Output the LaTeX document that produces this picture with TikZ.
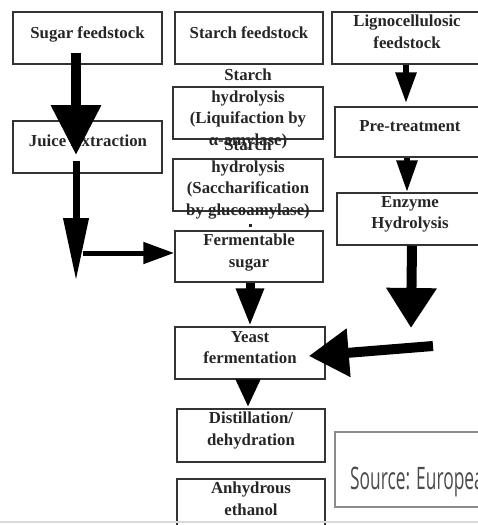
\documentclass[tikz,border=0pt]{standalone}
\usepackage{fontspec}
\setmainfont{Liberation Serif}
\newfontfamily\srcfont[FakeStretch=0.56]{Open Sans}
\usetikzlibrary{arrows.meta,calc}

\tikzset{
  box/.style={draw=black!80, line width=1.5pt, inner sep=0pt},
  txt/.style={anchor=north, inner sep=0pt, align=center, text=black!85,
              font=\bfseries\fontsize{16.8}{21.5}\selectfont},
  flow/.style n args={3}{draw=black, line width=#1, -{Triangle[width=#2,length=#3]}}
}

\begin{document}
\begin{tikzpicture}[x=1pt,y=-1pt]
    \useasboundingbox (0,0) rectangle (478,525);
    \clip (0,0) rectangle (478,525);
    % boxes
    \node[box, minimum width=149pt, minimum height=52pt] (sugar) at (87.5,38) {};
    \node[box, minimum width=148pt, minimum height=52pt] (starch) at (249,38) {};
    \node[box, minimum width=158pt, minimum height=52pt] (ligno) at (411,38) {};
    \node[box, minimum width=149pt, minimum height=52pt] (juice) at (87.5,147) {};
    \node[box, minimum width=155pt, minimum height=50pt] (pretreat) at (412.5,132) {};
    \node[box, minimum width=150pt, minimum height=52pt] (liquif) at (248,113) {};
    \node[box, minimum width=150pt, minimum height=52pt] (sacch) at (248,185) {};
    \node[box, minimum width=148pt, minimum height=51pt] (ferm) at (249,256.5) {};
    \node[box, minimum width=153pt, minimum height=52pt] (enzyme) at (413.5,219) {};
    \node[box, minimum width=150pt, minimum height=52pt] (yeast) at (250,353) {};
    \node[box, minimum width=148pt, minimum height=53pt] (distil) at (251,435.5) {};
    \node[box, minimum width=148pt, minimum height=61pt] (anhyd) at (251,509.5) {};
    \node[box, draw=black!45, minimum width=155pt, minimum height=75pt] (source) at (412.5,469.5) {};
    % texts
    \node[txt] (t-sugar) at (87.5,26) {Sugar feedstock};
    \node[txt] (t-starch) at (249,26) {Starch feedstock};
    \node[txt] (t-ligno) at (407,15) {Lignocellulosic\\feedstock};
    \node[txt] (t-juice) at (88,135) {Juice Extraction};
    \node[txt] (t-pretreat) at (410,120) {Pre-treatment};
    \node[txt] (t-liquif) at (248,69) {Starch\\hydrolysis\\(Liquifaction by\\α-amylase)};
    \node[txt] (t-sacch) at (248,139) {Starch\\hydrolysis\\(Saccharification\\by glucoamylase)};
    \node[txt] (t-ferm) at (249,234) {Fermentable\\sugar};
    \node[txt] (t-enzyme) at (410,196) {Enzyme\\Hydrolysis};
    \node[txt] (t-yeast) at (250,331) {Yeast\\fermentation};
    \node[txt] (t-distil) at (251,412) {Distillation/\\dehydration};
    \node[txt] (t-anhyd) at (251,482) {Anhydrous\\ethanol};
    \node[anchor=base west, inner sep=0pt, text=black!70, font=\srcfont\fontsize{31}{36}\selectfont]
        (t-source) at (350,489) {Source: Europea};
    \fill[black!85] (248.5,223.5) rectangle (251.5,226.5);
    % free ends
    \coordinate (sugarend) at (76,281);
    \coordinate (sugarturn) at (83,253);
    \coordinate (lignoend) at (411,328);
    \coordinate (lignoturn) at (433,346);
    % arrows
    \draw[flow={10pt}{48pt}{50pt}] ($(sugar.south)+(-11.5,-12)$) -- ($(juice.center)+(-11.5,8)$);
    \draw[flow={7pt}{24pt}{63pt}] ($(juice.south)+(-11.5,-13)$) -- (sugarend);
    \draw[flow={5pt}{21pt}{31pt}] (sugarturn) -- ($(ferm.west)+(0,-3.5)$);
    \draw[flow={6pt}{20pt}{31pt}] ($(ligno.south)+(-5,0)$) -- ($(pretreat.north)+(-6.5,-3)$);
    \draw[flow={6pt}{20pt}{32pt}] ($(pretreat.south)+(-5.5,0)$) -- ($(enzyme.north)+(-6.5,0)$);
    \draw[flow={10pt}{48pt}{40pt}] ($(enzyme.south)+(-1.5,0)$) -- (lignoend);
    \draw[flow={10pt}{46pt}{40pt}] (lignoturn) -- ($(yeast.east)+(-17,3)$);
    \draw[flow={9pt}{26pt}{38pt}] ($(ferm.south)+(1,0)$) -- (yeast.north);
    \draw[flow={7pt}{23pt}{28pt}] ($(yeast.south)+(-2,0)$) -- ($(distil.north)+(-3,-1)$);
    % bottom rule
    \draw[black!15, line width=2.5pt] (0,522) -- (478,522);
\end{tikzpicture}
\end{document}
